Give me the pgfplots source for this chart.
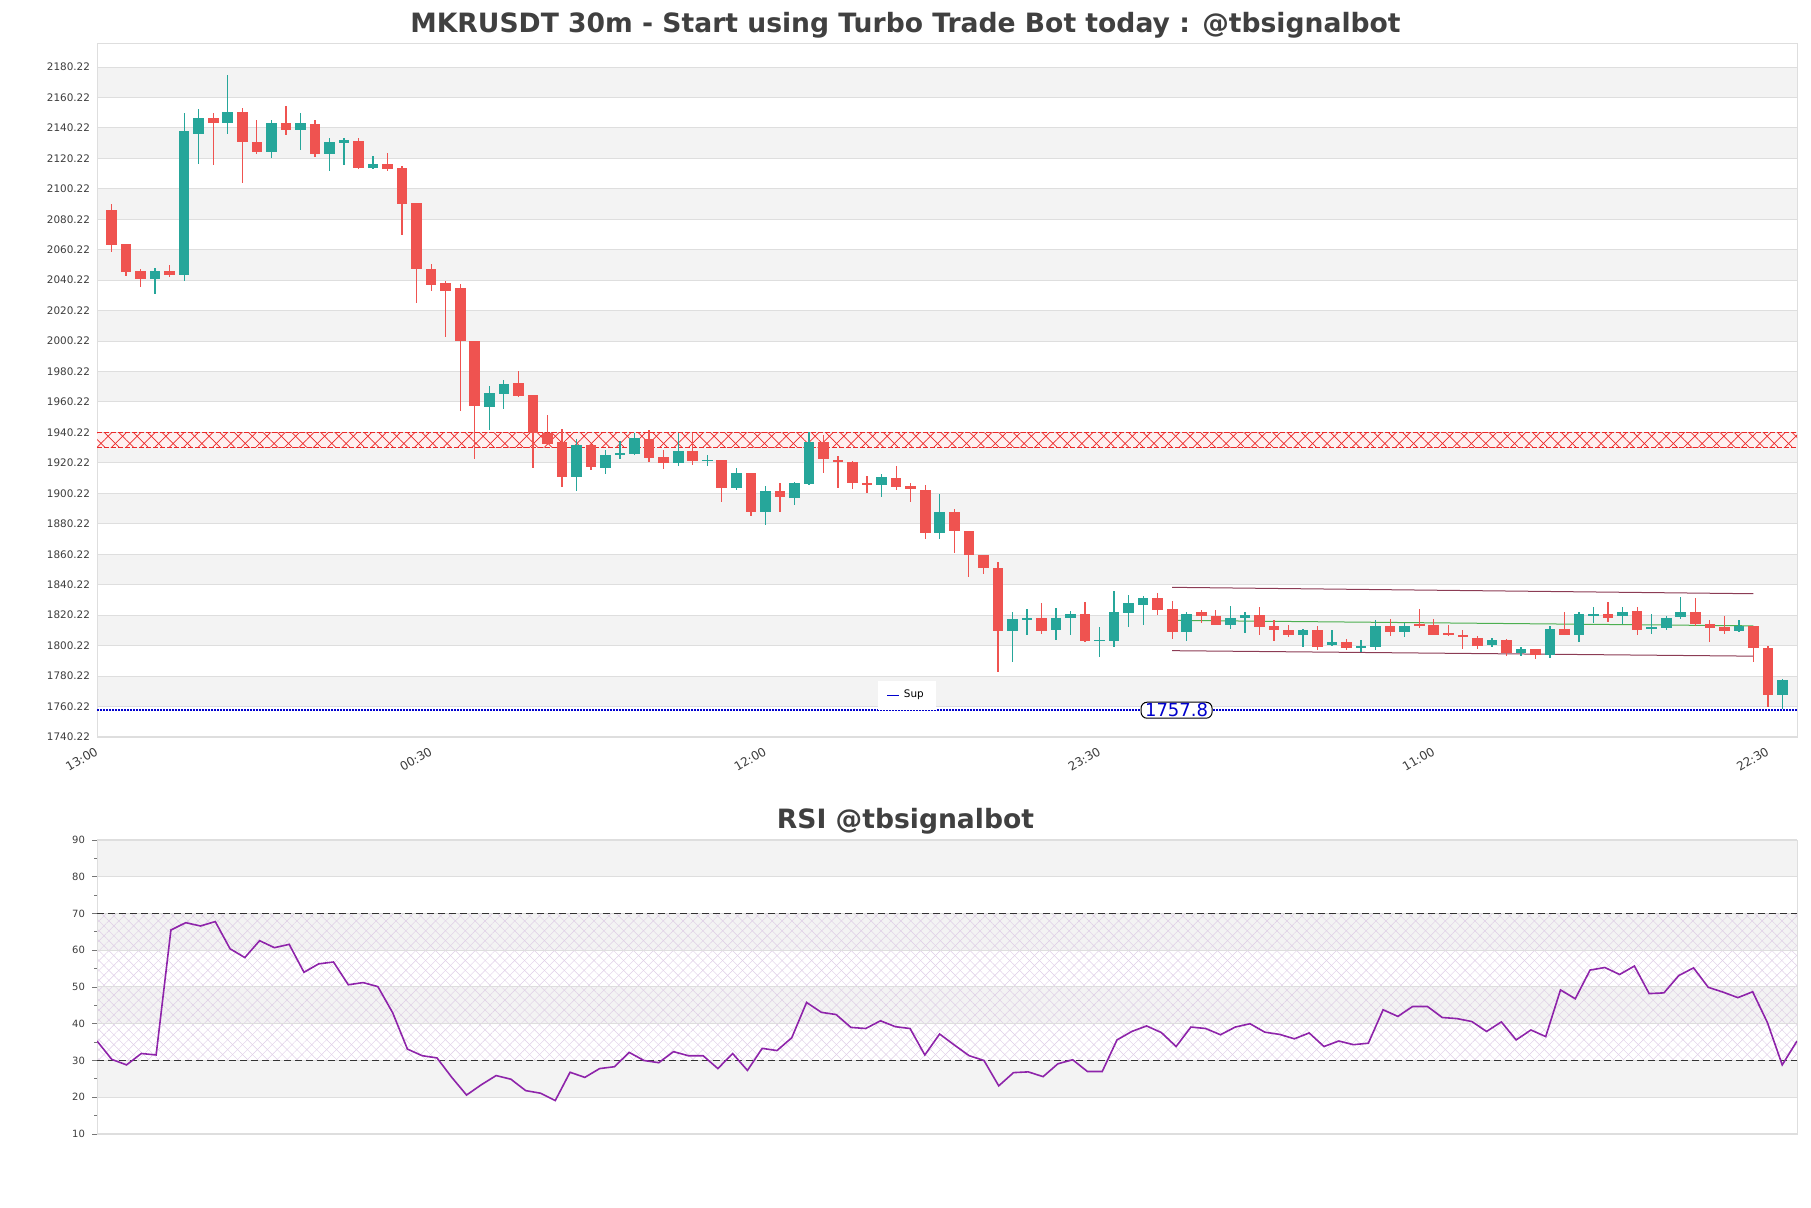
\documentclass[border=0pt]{standalone}
\usepackage{fontspec}
\setmainfont{DejaVu Sans}
\usepackage{pgfplots}
\usepackage{pgfplotstable}
\pgfplotsset{compat=1.18}
\usetikzlibrary{patterns.meta}
\definecolor{up}{RGB}{38,166,154}
\definecolor{dn}{RGB}{239,83,80}
\definecolor{bandc}{RGB}{243,243,243}
\definecolor{gridc}{RGB}{222,222,222}
\definecolor{txt}{RGB}{60,60,60}
\definecolor{titlec}{RGB}{64,64,64}
\definecolor{rsic}{RGB}{142,36,170}
\definecolor{chan}{RGB}{140,60,85}
\definecolor{midg}{RGB}{76,175,80}
\definecolor{supc}{RGB}{0,0,205}
\definecolor{resfill}{RGB}{255,240,240}
\definecolor{resline}{RGB}{235,40,40}
\definecolor{hatchp}{RGB}{222,205,230}

\pgfplotstableread{
x o h l c
3 2040.9 2048.4 2031.0 2046.0
5 2043.9 2150.1 2039.4 2138.0
6 2136.5 2152.5 2116.3 2147.0
8 2143.7 2174.8 2135.9 2151.0
11 2124.1 2145.2 2120.2 2143.7
13 2138.9 2150.1 2125.6 2143.7
15 2123.2 2133.5 2112.1 2130.8
16 2130.5 2133.5 2116.0 2132.3
18 2113.9 2122.0 2113.0 2116.3
26 1957.0 1970.6 1941.7 1965.8
27 1965.5 1974.5 1955.5 1972.1
32 1910.9 1935.9 1901.9 1932.3
34 1917.0 1928.4 1913.0 1925.1
35 1925.4 1934.4 1923.0 1926.6
36 1926.0 1939.6 1925.4 1936.8
39 1920.3 1939.6 1918.5 1927.8
41 1921.5 1925.4 1918.5 1922.4
43 1903.7 1917.0 1902.2 1913.3
45 1887.7 1904.9 1879.6 1901.9
47 1897.4 1907.9 1892.8 1907.3
48 1906.4 1940.5 1905.8 1934.1
53 1905.8 1913.0 1898.0 1910.9
57 1874.1 1899.8 1870.5 1887.7
62 1809.9 1822.0 1789.7 1818.0
63 1817.4 1824.4 1806.9 1818.3
65 1810.5 1825.0 1803.9 1818.6
66 1818.3 1822.8 1806.9 1821.0
68 1803.3 1812.3 1792.7 1804.2
69 1803.3 1836.4 1799.3 1822.0
70 1821.7 1833.4 1812.3 1828.0
71 1826.8 1832.8 1813.8 1831.3
74 1809.3 1822.0 1803.3 1821.3
77 1813.8 1826.5 1811.4 1818.3
78 1818.3 1822.0 1808.4 1820.4
82 1807.2 1811.4 1799.6 1810.2
84 1800.8 1810.8 1800.2 1802.6
86 1799.0 1803.9 1796.3 1799.9
87 1799.3 1816.8 1797.2 1813.2
89 1809.3 1815.3 1805.7 1813.2
95 1800.8 1805.4 1799.3 1804.2
97 1795.1 1799.6 1793.6 1797.8
99 1794.2 1812.9 1791.8 1811.4
101 1806.9 1822.0 1802.3 1821.3
102 1819.8 1825.6 1815.3 1821.3
104 1819.5 1825.6 1814.7 1822.5
106 1811.4 1821.3 1807.8 1812.3
107 1811.7 1819.8 1810.8 1818.3
108 1818.9 1831.9 1817.4 1822.5
112 1809.9 1816.8 1809.3 1813.2
115 1767.7 1778.2 1758.6 1777.6
}\upt

\pgfplotstableread{
x o h l c
0 2086.1 2090.3 2059.0 2063.2
1 2063.8 2064.0 2043.0 2045.4
2 2046.0 2047.5 2035.5 2040.9
4 2046.0 2050.5 2042.1 2043.9
7 2147.0 2150.1 2116.0 2143.7
9 2150.7 2153.1 2103.9 2131.1
10 2131.1 2145.2 2123.2 2124.1
12 2143.7 2154.6 2135.3 2138.9
14 2143.1 2145.5 2121.4 2123.2
17 2131.4 2133.5 2113.3 2113.9
19 2116.3 2123.5 2111.8 2113.3
20 2113.6 2115.1 2070.2 2090.3
21 2090.6 2090.6 2025.5 2047.5
22 2047.8 2050.8 2033.4 2037.0
23 2038.5 2039.4 2003.0 2033.4
24 2034.9 2037.9 1954.6 2000.2
25 2000.2 2000.2 1923.0 1957.6
28 1972.4 1980.6 1963.7 1964.3
29 1964.6 1964.6 1917.0 1939.6
30 1939.9 1951.9 1932.3 1932.9
31 1934.1 1942.6 1904.3 1910.9
33 1931.7 1932.9 1915.5 1917.6
37 1936.2 1942.0 1920.6 1923.6
38 1923.9 1928.4 1916.4 1920.3
40 1927.8 1939.6 1918.8 1921.5
42 1921.8 1921.8 1894.3 1903.7
44 1913.3 1913.3 1885.3 1887.7
46 1901.9 1907.3 1887.7 1898.0
49 1934.1 1938.3 1913.9 1922.7
50 1922.4 1924.5 1903.7 1920.6
51 1920.6 1921.5 1903.1 1907.0
52 1907.3 1911.5 1900.4 1905.8
54 1910.3 1918.5 1902.2 1904.3
55 1905.2 1907.3 1894.6 1902.8
56 1902.2 1905.8 1870.2 1874.1
58 1888.3 1889.8 1861.1 1875.6
59 1875.3 1875.6 1845.5 1859.6
60 1859.9 1859.9 1847.3 1851.2
61 1851.5 1855.1 1782.8 1809.9
64 1818.6 1828.0 1807.8 1809.9
67 1821.0 1828.9 1802.4 1803.3
72 1831.3 1834.9 1820.5 1823.5
73 1824.4 1829.8 1804.8 1809.3
75 1822.0 1823.8 1815.3 1819.5
76 1819.8 1823.5 1813.8 1813.8
79 1820.4 1825.9 1807.2 1812.3
80 1813.2 1816.8 1803.3 1810.2
81 1810.8 1813.8 1805.7 1807.2
83 1810.2 1812.9 1797.2 1799.6
85 1802.3 1804.8 1797.2 1798.7
88 1813.2 1817.4 1806.3 1809.3
90 1814.4 1824.4 1811.7 1813.2
91 1813.8 1817.7 1807.2 1807.2
92 1808.4 1813.8 1806.3 1806.9
93 1807.2 1810.8 1798.1 1805.7
94 1805.4 1806.3 1798.1 1800.2
96 1804.2 1804.8 1793.3 1795.1
98 1797.8 1797.8 1791.2 1794.2
100 1811.4 1822.0 1806.9 1806.9
103 1821.3 1828.9 1815.9 1818.3
105 1822.8 1825.3 1806.9 1810.5
109 1822.5 1831.3 1812.9 1814.1
110 1814.7 1816.8 1802.6 1811.7
111 1812.3 1819.8 1807.8 1809.9
113 1812.9 1813.2 1789.7 1798.7
114 1798.7 1800.2 1760.1 1767.7
}\dnt

\pgfplotstableread{
k r
0 35.3
1 30.3
2 28.8
3 31.9
4 31.5
5 65.5
6 67.5
7 66.6
8 67.8
9 60.4
10 58.0
11 62.6
12 60.7
13 61.6
14 54.0
15 56.3
16 56.8
17 50.6
18 51.2
19 50.1
20 43.0
21 33.1
22 31.3
23 30.7
24 25.4
25 20.6
26 23.4
27 25.9
28 24.9
29 21.8
30 21.1
31 19.1
32 26.8
33 25.4
34 27.8
35 28.3
36 32.2
37 30.0
38 29.4
39 32.4
40 31.3
41 31.3
42 27.8
43 31.9
44 27.3
45 33.3
46 32.7
47 36.2
48 45.8
49 43.1
50 42.5
51 39.0
52 38.7
53 40.8
54 39.2
55 38.7
56 31.5
57 37.2
58 34.2
59 31.3
60 30.0
61 23.1
62 26.7
63 26.9
64 25.6
65 29.1
66 30.2
67 27.0
68 27.0
69 35.6
70 37.9
71 39.4
72 37.6
73 33.8
74 39.1
75 38.7
76 37.0
77 39.1
78 40.0
79 37.7
80 37.1
81 35.9
82 37.5
83 33.8
84 35.3
85 34.3
86 34.7
87 43.8
88 42.0
89 44.7
90 44.7
91 41.7
92 41.4
93 40.6
94 37.9
95 40.5
96 35.6
97 38.3
98 36.5
99 49.2
100 46.8
101 54.6
102 55.3
103 53.4
104 55.7
105 48.2
106 48.4
107 53.1
108 55.2
109 49.9
110 48.6
111 47.1
112 48.7
113 40.3
114 28.8
115 35.3
}\rsit

\newcommand{\band}[4]{\addplot[on layer=axis background, draw=none, fill=bandc, forget plot] coordinates {(#1,#3) (#2,#3) (#2,#4) (#1,#4)};}

\begin{document}
\begin{tikzpicture}
\path (0,0) rectangle (905.5pt,604pt);

\node[anchor=base, font=\fontsize{13.3}{16}\selectfont\bfseries, text=titlec] at (452.75pt,587.8pt) {MKRUSDT 30m - Start using Turbo Trade Bot today : @tbsignalbot};
\node[anchor=base, font=\fontsize{13.3}{16}\selectfont\bfseries, text=titlec] at (452.75pt,189.5pt) {RSI @tbsignalbot};

\begin{axis}[
  set layers=standard,
  at={(48.5pt,235.5pt)}, anchor=south west,
  width=850pt, height=347pt, scale only axis,
  xmin=-1, xmax=116, ymin=1740.22, ymax=2196,
  axis line style={draw=gridc},
  ytick={1740.22,1760.22,1780.22,1800.22,1820.22,1840.22,1860.22,1880.22,1900.22,1920.22,1940.22,1960.22,1980.22,2000.22,2020.22,2040.22,2060.22,2080.22,2100.22,2120.22,2140.22,2160.22,2180.22},
  yticklabels={1740.22,1760.22,1780.22,1800.22,1820.22,1840.22,1860.22,1880.22,1900.22,1920.22,1940.22,1960.22,1980.22,2000.22,2020.22,2040.22,2060.22,2080.22,2100.22,2120.22,2140.22,2160.22,2180.22},
  xtick={-1,22,45,68,91,114},
  xticklabels={13:00,00:30,12:00,23:30,11:00,22:30},
  major tick length=0pt,
  ymajorgrids, grid style={draw=gridc, line width=0.5pt},
  yticklabel style={font=\fontsize{5.2}{6}\selectfont, text=txt},
  xticklabel style={font=\fontsize{6}{7}\selectfont, text=txt, rotate=30, anchor=north east},
  /pgf/number format/assume math mode=true,
  legend style={at={(0.4765,0.06)}, anchor=center, draw=none, fill=white, font=\fontsize{5.2}{6}\selectfont, inner xsep=4pt, inner ysep=2.5pt},
  legend image code/.code={\draw[supc, solid, line width=0.8pt] (0pt,0pt) -- (6pt,0pt);},
]
\band{-1}{116}{1760.22}{1780.22}
\band{-1}{116}{1800.22}{1820.22}
\band{-1}{116}{1840.22}{1860.22}
\band{-1}{116}{1880.22}{1900.22}
\band{-1}{116}{1920.22}{1940.22}
\band{-1}{116}{1960.22}{1980.22}
\band{-1}{116}{2000.22}{2020.22}
\band{-1}{116}{2040.22}{2060.22}
\band{-1}{116}{2080.22}{2100.22}
\band{-1}{116}{2120.22}{2140.22}
\band{-1}{116}{2160.22}{2180.22}

% resistance zone
\addplot[draw=none, fill=resfill, forget plot] coordinates {(-1,1930.5) (116,1930.5) (116,1939.9) (-1,1939.9)};
\addplot[draw=none, pattern={Lines[angle=45,distance=5.1pt,line width=0.35pt]}, pattern color=resline, forget plot] coordinates {(-1,1930.5) (116,1930.5) (116,1939.9) (-1,1939.9)};
\addplot[draw=none, pattern={Lines[angle=-45,distance=5.1pt,line width=0.35pt]}, pattern color=resline, forget plot] coordinates {(-1,1930.5) (116,1930.5) (116,1939.9) (-1,1939.9)};
\addplot[resline, line width=0.45pt, dash pattern=on 2.5pt off 1pt, forget plot] coordinates {(-1,1930.5) (116,1930.5)};
\addplot[resline, line width=0.45pt, dash pattern=on 2.5pt off 1pt, forget plot] coordinates {(-1,1939.9) (116,1939.9)};

% channel
\addplot[chan, line width=0.5pt, forget plot] coordinates {(73,1838.5) (113,1834.3)};
\addplot[chan, line width=0.5pt, forget plot] coordinates {(73,1796.9) (113,1793.3)};
\addplot[midg, line width=0.5pt, forget plot] coordinates {(73,1816.8) (113,1813.2)};

% support line
\addplot[supc, line width=0.9pt, dash pattern=on 1pt off 0.5pt] coordinates {(-1,1757.8) (116,1757.8)};
\addlegendentry{Sup}

% wicks
\addplot[draw=none, mark=none, forget plot, error bars/.cd, y dir=both, y explicit, error mark=none, error bar style={draw=up, line width=0.65pt}]
  table[x=x, y expr={(\thisrow{h}+\thisrow{l})/2}, y error expr={(\thisrow{h}-\thisrow{l})/2}] {\upt};
\addplot[draw=none, mark=none, forget plot, error bars/.cd, y dir=both, y explicit, error mark=none, error bar style={draw=dn, line width=0.65pt}]
  table[x=x, y expr={(\thisrow{h}+\thisrow{l})/2}, y error expr={(\thisrow{h}-\thisrow{l})/2}] {\dnt};
% bodies
\addplot[draw=none, mark=none, forget plot, error bars/.cd, y dir=both, y explicit, error mark=none, error bar style={draw=up, line width=5.3pt}]
  table[x=x, y expr={(\thisrow{o}+\thisrow{c})/2}, y error expr={max(abs(\thisrow{o}-\thisrow{c})/2,0.4)}] {\upt};
\addplot[draw=none, mark=none, forget plot, error bars/.cd, y dir=both, y explicit, error mark=none, error bar style={draw=dn, line width=5.3pt}]
  table[x=x, y expr={(\thisrow{o}+\thisrow{c})/2}, y error expr={max(abs(\thisrow{o}-\thisrow{c})/2,0.4)}] {\dnt};

\node[draw=black, line width=0.5pt, fill=white, rounded corners=3pt, text=supc, font=\fontsize{9}{10}\selectfont, inner ysep=0.6pt, inner xsep=2pt] at (axis cs:73.3,1757.8) {1757.8};
\end{axis}

\begin{axis}[
  set layers=standard,
  at={(48.5pt,37pt)}, anchor=south west,
  width=850pt, height=147pt, scale only axis,
  xmin=0, xmax=115, ymin=10, ymax=90,
  axis line style={draw=gridc},
  xtick=\empty,
  ytick={10,20,30,40,50,60,70,80,90},
  minor ytick={15,25,35,45,55,65,75,85},
  ymajorgrids, grid style={draw=gridc, line width=0.5pt},
  tick align=outside, tick pos=left,
  major tick length=2.5pt, minor tick length=1.3pt,
  y tick style={draw=txt!70, line width=0.4pt},
  yticklabel style={font=\fontsize{5}{6}\selectfont, text=txt},
  /pgf/number format/assume math mode=true,
]
\band{0}{115}{20}{30}
\band{0}{115}{40}{50}
\band{0}{115}{60}{70}
\band{0}{115}{80}{90}
\addplot[on layer=axis background, draw=none, pattern={Lines[angle=45,distance=3.5pt,line width=0.22pt]}, pattern color=hatchp, forget plot] coordinates {(0,30) (115,30) (115,70) (0,70)};
\addplot[on layer=axis background, draw=none, pattern={Lines[angle=-45,distance=3.5pt,line width=0.22pt]}, pattern color=hatchp, forget plot] coordinates {(0,30) (115,30) (115,70) (0,70)};
\addplot[black!80, line width=0.6pt, dash pattern=on 3.5pt off 2pt, forget plot] coordinates {(0,70) (115,70)};
\addplot[black!80, line width=0.6pt, dash pattern=on 3.5pt off 2pt, forget plot] coordinates {(0,30) (115,30)};
\addplot[rsic, line width=0.8pt, forget plot] table[x=k, y=r] {\rsit};
\end{axis}
\pgfresetboundingbox
\path[use as bounding box] (0,0) rectangle (905.5pt,604pt);
\end{tikzpicture}
\end{document}
